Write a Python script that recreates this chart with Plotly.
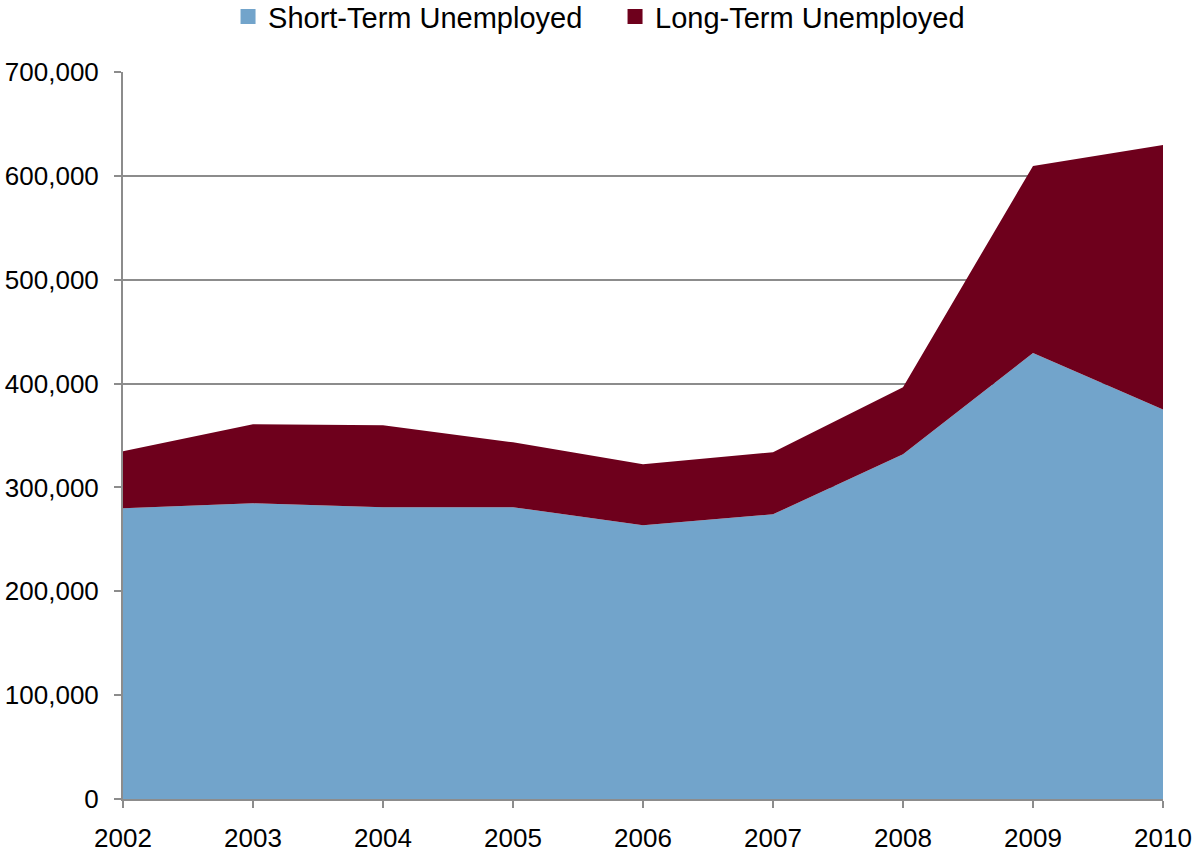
import plotly.graph_objects as go

years = [2002, 2003, 2004, 2005, 2006, 2007, 2008, 2009, 2010]
short_term = [280000, 284700, 280800, 281000, 263500, 274100, 331900, 429500, 375000]
long_term = [54800, 76100, 79000, 62400, 58800, 59800, 64600, 180100, 254600]

series_names = ["Short-Term Unemployed", "Long-Term Unemployed"]
series_colors = ["#72A4CB", "#6E001C"]

fig = go.Figure()
for name, vals, col in zip(series_names, [short_term, long_term], series_colors):
    fig.add_trace(go.Scatter(
        x=years, y=vals, mode="lines", stackgroup="one",
        line=dict(width=0, color=col), fillcolor=col,
        name=name, showlegend=False,
    ))
    fig.add_trace(go.Scatter(
        x=[None], y=[None], mode="markers",
        marker=dict(symbol="square", size=15, color=col),
        name=name, showlegend=True,
    ))

axis_gray = "#8C8C8C"
fig.update_layout(
    width=1192, height=855,
    margin=dict(l=123, r=29, t=72, b=56, autoexpand=False),
    paper_bgcolor="white", plot_bgcolor="white",
    font=dict(family="Arial, 'Liberation Sans', sans-serif", size=26, color="black"),
    legend=dict(orientation="h", x=0.101, xanchor="left", y=1.076, yanchor="middle",
                font=dict(size=29), itemwidth=30, tracegroupgap=0,
                entrywidth=342, entrywidthmode="pixels",
                traceorder="normal", bgcolor="rgba(0,0,0,0)"),
    xaxis=dict(range=[2002, 2010], tickmode="array", tickvals=years,
               ticktext=[str(y) for y in years], automargin=False,
               showgrid=False, showline=True, linecolor=axis_gray, linewidth=2,
               ticks="outside", ticklen=7, tickwidth=2, tickcolor=axis_gray,
               ticklabelstandoff=8, zeroline=False),
    yaxis=dict(range=[0, 700000], dtick=100000, tickformat=",", automargin=False,
               showgrid=True, gridcolor=axis_gray, gridwidth=1.5,
               showline=True, linecolor=axis_gray, linewidth=2,
               ticks="outside", ticklen=7, tickwidth=2, tickcolor=axis_gray,
               ticklabelstandoff=10, zeroline=False),
)

fig.write_html("out.html", config={"displayModeBar": False},
               post_script="document.body.style.margin='0';")
